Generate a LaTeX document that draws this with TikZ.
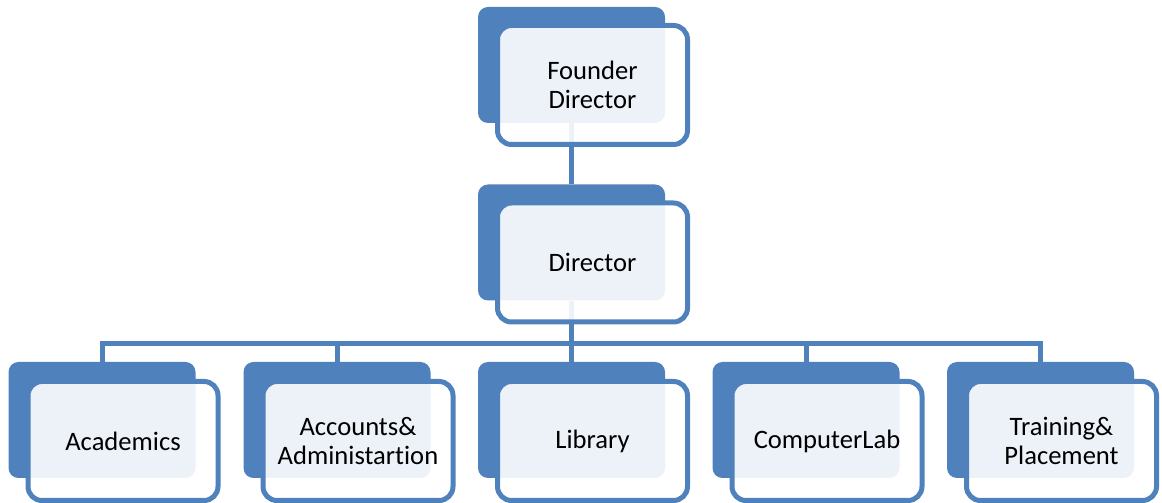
\documentclass[tikz,border=0pt]{standalone}
\usepackage{fontspec}
\setmainfont{Carlito}[RawFeature={-liga;-calt;-dlig}]
\usetikzlibrary{positioning,backgrounds}
\definecolor{accent}{HTML}{4F81BD}

\begin{document}
\begin{tikzpicture}[x=0.5pt,y=0.5pt,
  back/.style={rectangle,rounded corners=5pt,fill=accent,inner sep=0pt,
    minimum width=93.5pt,minimum height=58pt},
  front/.style={rectangle,rounded corners=7pt,draw=accent,line width=2.5pt,
    fill=white,fill opacity=0.9,text opacity=1,inner sep=0pt,align=center,
    minimum width=95pt,minimum height=59.5pt,
    font=\fontsize{13.3}{14.6}\selectfont},
  link/.style={draw=accent,line width=2.5pt}]
\useasboundingbox (0,0) rectangle (1162,503);
\node[back] (fdb) at (571.5,438) {};
\node[front] (fd) at ([shift={(21,-20)}]fdb.center) {Founder\\Director};
\node[back] (dirb) at (571.5,260.5) {};
\node[front] (dir) at ([shift={(21,-20)}]dirb.center) {Director};
\node[back] (acb) at (102,83) {};
\node[front] (ac) at ([shift={(21,-21)}]acb.center) {Academics};
\node[back] (accb) at (337,83) {};
\node[front] (acc) at ([shift={(21,-21)}]accb.center) {Accounts\&\\Administartion};
\node[back] (libb) at (571.5,83) {};
\node[front] (lib) at ([shift={(21,-21)}]libb.center) {Library};
\node[back] (clb) at (806,83) {};
\node[front] (cl) at ([shift={(21,-21)}]clb.center) {ComputerLab};
\node[back] (tpb) at (1040.5,83) {};
\node[front] (tp) at ([shift={(21,-21)}]tpb.center) {Training\&\\Placement};
\begin{scope}[on background layer]
\draw[link] (fdb.south) -- (dirb.north);
\foreach \n in {acb,accb,libb,clb,tpb}
  \draw[link] (dirb.south) -- ++(0,-43) -| (\n.north);
\end{scope}
\end{tikzpicture}
\end{document}
